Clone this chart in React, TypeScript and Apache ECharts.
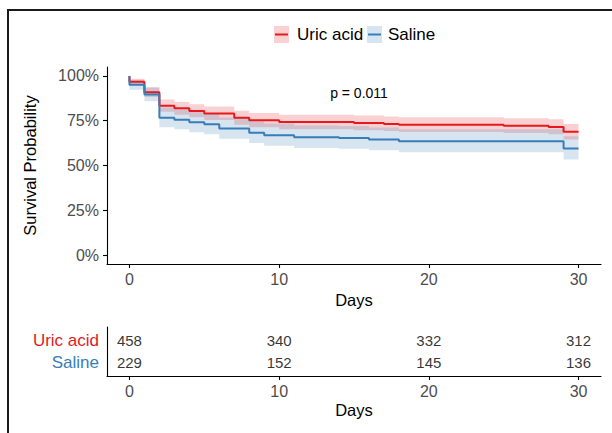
import React, { useEffect, useRef } from "react";
import * as echarts from "echarts";

// ---- Data ----
const endDay = 30;
const uricTimes = [0, 1, 2, 3, 4, 5, 7, 8, 10, 15, 17, 18, 25, 28, 29];
const uricSurv = [0.968, 0.909, 0.834, 0.819, 0.805, 0.791, 0.766, 0.752, 0.743, 0.737, 0.732, 0.727, 0.722, 0.715, 0.688];
const uricLower = [0.952, 0.883, 0.8, 0.784, 0.769, 0.754, 0.728, 0.713, 0.703, 0.697, 0.692, 0.687, 0.681, 0.674, 0.645];
const uricUpper = [0.984, 0.936, 0.868, 0.855, 0.842, 0.829, 0.806, 0.793, 0.784, 0.779, 0.774, 0.769, 0.764, 0.758, 0.732];

const salineTimes = [0, 1, 2, 3, 4, 5, 6, 8, 9, 11, 14, 16, 18, 29];
const salineSurv = [0.951, 0.897, 0.767, 0.756, 0.741, 0.73, 0.706, 0.683, 0.669, 0.658, 0.654, 0.645, 0.635, 0.595];
const salineLower = [0.923, 0.859, 0.714, 0.702, 0.686, 0.674, 0.649, 0.625, 0.61, 0.598, 0.594, 0.585, 0.574, 0.533];
const salineUpper = [0.979, 0.937, 0.824, 0.814, 0.8, 0.79, 0.768, 0.747, 0.734, 0.724, 0.72, 0.712, 0.702, 0.664];

const riskDays = [0, 10, 20, 30];
const uricRisk = [458, 340, 332, 312];
const salineRisk = [229, 152, 145, 136];

const xTicks = [0, 10, 20, 30];
const yTicks = [0, 0.25, 0.5, 0.75, 1];
const groupNames = ["Uric acid", "Saline"];
const pText = "p = 0.011";

const RED = "#E41A1C";
const BLUE = "#377EB8";
const RED_FILL = "rgba(228,26,28,0.2)";
const BLUE_FILL = "rgba(55,126,184,0.2)";
const FONT = "'Liberation Sans', Arial, Helvetica, sans-serif";

function stepLine(times: number[], surv: number[]) {
  const pts: number[][] = [[times[0], 1]];
  for (let i = 0; i < times.length; i++) {
    const next = i + 1 < times.length ? times[i + 1] : endDay;
    pts.push([times[i], surv[i]]);
    pts.push([next, surv[i]]);
  }
  return pts;
}

function bandPoints(times: number[], lo: number[], up: number[]) {
  const upper: number[][] = [];
  const lower: number[][] = [];
  for (let i = 0; i < times.length; i++) {
    const next = i + 1 < times.length ? times[i + 1] : endDay;
    upper.push([times[i], up[i]], [next, up[i]]);
    lower.push([times[i], lo[i]], [next, lo[i]]);
  }
  return upper.concat(lower.reverse());
}

function bandSeries(times: number[], lo: number[], up: number[], fill: string) {
  const pts = bandPoints(times, lo, up);
  return {
    type: "custom",
    xAxisIndex: 0,
    yAxisIndex: 0,
    silent: true,
    data: [[0, 0]],
    renderItem: (params: any, api: any) => {
      const points = pts.map((p) => api.coord(p));
      return {
        type: "polygon",
        shape: { points },
        style: { fill, stroke: "none" },
      };
    },
    z: 1,
  };
}

export default function App() {
  const ref = useRef<HTMLDivElement>(null);

  useEffect(() => {
    document.body.style.margin = "0";
    if (!ref.current) return;
    const chart = echarts.init(ref.current, undefined, { renderer: "svg" });

    const axisLineStyle = { color: "#000", width: 1.1 };
    const labelStyle = { color: "#4D4D4D", fontSize: 16, fontFamily: FONT };

    const riskLabel = {
      show: true,
      position: "inside",
      formatter: (p: any) => String(p.value[2]),
      color: "#000",
      fontSize: 15,
      fontFamily: FONT,
    };

    const option: any = {
      animation: false,
      backgroundColor: "#fff",
      textStyle: { fontFamily: FONT },
      grid: [
        { left: 107, right: 11, top: 67, height: 197, containLabel: false, outerBoundsMode: "none" },
        { left: 107, right: 11, top: 327, height: 49, containLabel: false, outerBoundsMode: "none" },
      ],
      xAxis: [
        {
          type: "value",
          gridIndex: 0,
          min: -1.5,
          max: 31.5,
          splitLine: { show: false },
          axisLine: { show: true, onZero: false, lineStyle: axisLineStyle },
          axisTick: { show: true, length: 4, lineStyle: axisLineStyle, customValues: xTicks },
          axisLabel: { ...labelStyle, margin: 7, customValues: xTicks },
        },
        {
          type: "value",
          gridIndex: 1,
          min: -1.5,
          max: 31.5,
          splitLine: { show: false },
          axisLine: { show: true, onZero: false, lineStyle: axisLineStyle },
          axisTick: { show: true, length: 4, lineStyle: axisLineStyle, customValues: xTicks },
          axisLabel: { ...labelStyle, margin: 7, customValues: xTicks },
        },
      ],
      yAxis: [
        {
          type: "value",
          gridIndex: 0,
          min: -0.05,
          max: 1.05,
          splitLine: { show: false },
          axisLine: { show: true, onZero: false, lineStyle: axisLineStyle },
          axisTick: { show: true, length: 4, lineStyle: axisLineStyle, customValues: yTicks },
          axisLabel: {
            ...labelStyle,
            margin: 8,
            customValues: yTicks,
            formatter: (v: number) => Math.round(v * 100) + "%",
          },
        },
        {
          type: "value",
          gridIndex: 1,
          min: -0.6,
          max: 1.6,
          splitLine: { show: false },
          axisLine: { show: true, onZero: false, lineStyle: axisLineStyle },
          axisTick: { show: false, customValues: [0, 1] },
          axisLabel: {
            fontSize: 17,
            fontFamily: FONT,
            margin: 8,
            customValues: [0, 1],
            formatter: (v: number) => (Math.round(v) === 1 ? groupNames[0] : groupNames[1]),
            color: (v: any) => (Math.round(Number(v)) === 1 ? RED : BLUE),
          },
        },
      ],
      series: [
        bandSeries(uricTimes, uricLower, uricUpper, RED_FILL),
        bandSeries(salineTimes, salineLower, salineUpper, BLUE_FILL),
        {
          type: "line",
          name: groupNames[0],
          xAxisIndex: 0,
          yAxisIndex: 0,
          data: stepLine(uricTimes, uricSurv),
          showSymbol: false,
          symbol: "none",
          lineStyle: { color: RED, width: 2 },
          itemStyle: { color: RED },
          silent: true,
          z: 3,
        },
        {
          type: "line",
          name: groupNames[1],
          xAxisIndex: 0,
          yAxisIndex: 0,
          data: stepLine(salineTimes, salineSurv),
          showSymbol: false,
          symbol: "none",
          lineStyle: { color: BLUE, width: 2 },
          itemStyle: { color: BLUE },
          silent: true,
          z: 4,
        },
        {
          type: "scatter",
          xAxisIndex: 1,
          yAxisIndex: 1,
          symbolSize: 1,
          itemStyle: { color: "rgba(0,0,0,0)" },
          silent: true,
          data: riskDays.map((d, i) => [d, 1, uricRisk[i]]),
          label: riskLabel,
        },
        {
          type: "scatter",
          xAxisIndex: 1,
          yAxisIndex: 1,
          symbolSize: 1,
          itemStyle: { color: "rgba(0,0,0,0)" },
          silent: true,
          data: riskDays.map((d, i) => [d, 0, salineRisk[i]]),
          label: riskLabel,
        },
      ],
      graphic: [
        // outer frame (cropped figure border)
        { type: "line", shape: { x1: 8, y1: 10, x2: 612, y2: 10 }, style: { stroke: "#1a1a1a", lineWidth: 2 } },
        { type: "line", shape: { x1: 8, y1: 9, x2: 8, y2: 433 }, style: { stroke: "#1a1a1a", lineWidth: 2 } },
        // legend
        { type: "rect", shape: { x: 274, y: 26, width: 15, height: 17 }, style: { fill: RED_FILL } },
        { type: "line", shape: { x1: 275, y1: 34.5, x2: 288, y2: 34.5 }, style: { stroke: RED, lineWidth: 2 } },
        {
          type: "text",
          x: 297,
          y: 34.5,
          style: { text: groupNames[0], fontSize: 17, fontFamily: FONT, fill: "#000", verticalAlign: "middle", align: "left" },
        },
        { type: "rect", shape: { x: 367, y: 26, width: 15, height: 17 }, style: { fill: BLUE_FILL } },
        { type: "line", shape: { x1: 368, y1: 34.5, x2: 381, y2: 34.5 }, style: { stroke: BLUE, lineWidth: 2 } },
        {
          type: "text",
          x: 388,
          y: 34.5,
          style: { text: groupNames[1], fontSize: 17, fontFamily: FONT, fill: "#000", verticalAlign: "middle", align: "left" },
        },
        // p value
        {
          type: "text",
          x: 359,
          y: 93,
          style: { text: pText, fontSize: 14, fontFamily: FONT, fill: "#000", align: "center", verticalAlign: "middle" },
        },
        // axis titles
        {
          type: "text",
          x: 30,
          y: 165.5,
          rotation: Math.PI / 2,
          style: { text: "Survival Probability", fontSize: 16.5, fontFamily: FONT, fill: "#000", align: "center", verticalAlign: "middle" },
        },
        {
          type: "text",
          x: 354,
          y: 300,
          style: { text: "Days", fontSize: 16.5, fontFamily: FONT, fill: "#000", align: "center", verticalAlign: "middle" },
        },
        {
          type: "text",
          x: 354,
          y: 410,
          style: { text: "Days", fontSize: 16.5, fontFamily: FONT, fill: "#000", align: "center", verticalAlign: "middle" },
        },
      ],
    };

    chart.setOption(option);
    return () => chart.dispose();
  }, []);

  return <div ref={ref} style={{ width: 612, height: 433, overflow: "hidden" }} />;
}
